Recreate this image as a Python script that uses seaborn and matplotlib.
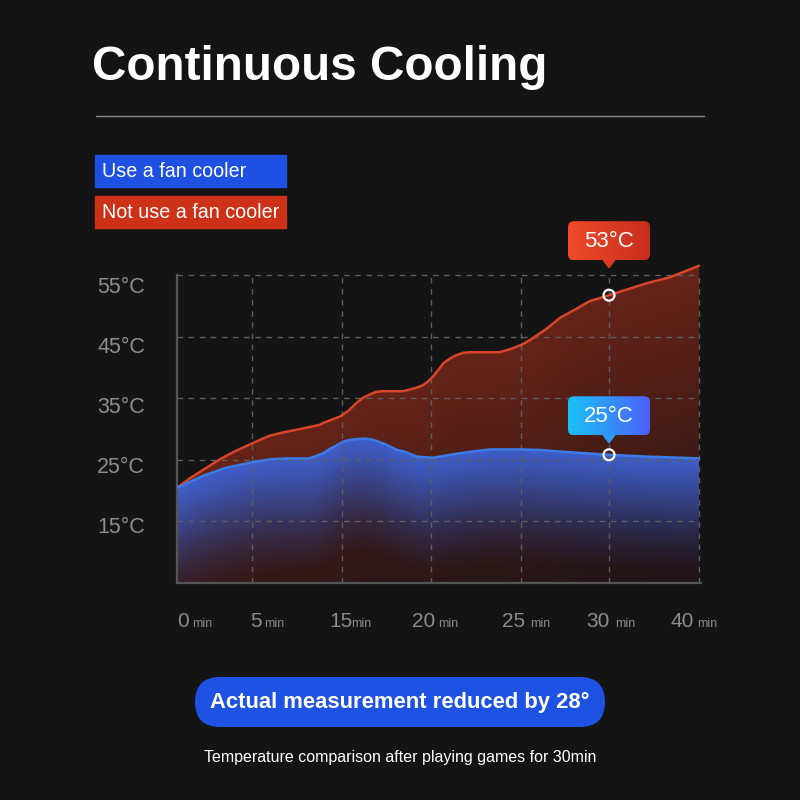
import numpy as np
import pandas as pd
import matplotlib
matplotlib.use("Agg")
import matplotlib.pyplot as plt
import seaborn as sns
from matplotlib.patches import FancyBboxPatch, Rectangle, Polygon

# ---- data ----
tick_minutes = [0, 5, 15, 20, 25, 30, 40]
temp_ticks = [15, 25, 35, 45, 55]

nofan_min = [0, 0.87, 1.75, 2.9, 3.87, 5, 7, 8.67, 10.7, 12.56, 12.9, 14.8, 15.34, 15.8,
             16.18, 16.6, 16.9, 17.3, 18.45, 19.2, 19.55, 19.78, 20.1, 20.39, 20.7, 21.06,
             21.4, 21.78, 22.2, 23.8, 24.4, 25, 25.5, 26.5, 27.2, 28, 28.9, 30, 34.2, 36.8, 40]
nofan_temp = [21.2, 22.8, 24.2, 26.0, 27.3, 28.6, 29.9, 30.5, 31.1, 31.7, 32.0, 33.1, 34.0, 35.3,
              36.2, 36.8, 37.2, 37.3, 37.3, 37.9, 38.3, 38.8, 39.7, 40.8, 42.0, 42.75,
              43.3, 43.7, 43.8, 43.8, 44.3, 45.0, 45.8, 47.8, 49.5, 50.8, 52.3, 53.3, 55.3, 56.3, 58.2]

fan_min = [0, 0.87, 1.75, 3.2, 5, 7, 8.85, 11.4, 12.9, 13.67, 14.33, 15.07, 15.45, 15.8,
           16.3, 16.75, 17.4, 18.1, 18.54, 19.2, 19.66, 20.1, 21.05, 22.17, 23.3, 24.1,
           24.95, 26.1, 27.4, 30, 34.2, 40]
fan_temp = [21.2, 22.2, 23.2, 24.5, 25.45, 25.95, 26.1, 26.1, 26.95, 27.7, 28.2, 28.9, 29.2, 29.3,
            29.4, 29.2, 28.5, 27.5, 27.2, 26.4, 26.3, 26.2, 26.7, 27.2, 27.6, 27.6,
            27.6, 27.5, 27.2, 26.7, 26.4, 26.1]

highlight_min = 30
nofan_label = '53°C'
fan_label = '25°C'

series_names = ['Use a fan cooler', 'Not use a fan cooler']

# ---- layout / style ----
BG = '#141414'
grid_pos = [0, 75, 165, 254, 344, 432, 522]      # x gridlines (px apart)
grid_temp = [15.7, 25.9, 36.2, 46.4, 56.7]
y_bottom, y_top = 5.33, 59.0
num_left_px = [177.6, 249.9, 329.4, 412.1, 502.3, 586.7, 670.3]
unit_left_px = [192.4, 263.7, 351.5, 437.9, 529.8, 615.2, 696.9]

red_line = '#d9452b'
blue_line = '#3d7be6'
legend_blue = '#1e50e1'
legend_red = '#cd3219'


def to_pos(m):
    return np.interp(m, tick_minutes, grid_pos)


sns.set_theme(style="dark", rc={'figure.facecolor': BG, 'axes.facecolor': BG,
                                'savefig.facecolor': BG})
plt.rcParams['font.family'] = ['Liberation Sans', 'DejaVu Sans']


def gradient_area(ax, x, y, c_top, c_bot, a_top, a_bot, depth, power, z):
    x = np.asarray(x, dtype=float)
    y = np.asarray(y, dtype=float)
    area = ax.fill_between(x, y, y_bottom, facecolor='none', edgecolor='none', zorder=z)
    xs = np.linspace(x.min(), x.max(), 600)
    ys = np.linspace(y_bottom, y_top, 400)
    top = np.interp(xs, x, y)
    f = np.clip((top[None, :] - ys[:, None]) / depth, 0, 1) ** power
    f = f[..., None]
    rgb = (1 - f) * np.array(c_top) + f * np.array(c_bot)
    a = (1 - f) * a_top + f * a_bot
    img = np.concatenate([rgb, a], axis=2)
    im = ax.imshow(img, extent=[x.min(), x.max(), y_bottom, y_top], origin='lower',
                   aspect='auto', zorder=z, interpolation='bilinear')
    im.set_clip_path(area.get_paths()[0], transform=ax.transData)


def gradient_box(deco, x0, y0, w, h, c_left, c_right, radius, z):
    patch = FancyBboxPatch((x0, y0), w, h, boxstyle=f"round,pad=0,rounding_size={radius}",
                           fc='none', ec='none', zorder=z)
    deco.add_patch(patch)
    g = np.linspace(0, 1, 256)[:, None]
    img = ((1 - g) * np.array(c_left) + g * np.array(c_right))[None, :, :]
    im = deco.imshow(img, extent=[x0, x0 + w, y0 + h, y0], aspect='auto', zorder=z)
    im.set_clip_path(patch)


fig = plt.figure(figsize=(8, 8), dpi=100)
ax = fig.add_axes([177 / 800, 217 / 800, 524 / 800, 322 / 800])

df = pd.concat([
    pd.DataFrame({'minute': nofan_min, 'temp': nofan_temp, 'series': series_names[1]}),
    pd.DataFrame({'minute': fan_min, 'temp': fan_temp, 'series': series_names[0]}),
])
df['pos'] = to_pos(df['minute'])

nofan = df[df['series'] == series_names[1]]
fan = df[df['series'] == series_names[0]]

gradient_area(ax, nofan['pos'], nofan['temp'], (0.40, 0.14, 0.095), (0.16, 0.08, 0.075),
              1.0, 1.0, 50, 1.0, 1)
gradient_area(ax, fan['pos'], fan['temp'], (0.24, 0.38, 0.82), (0.09, 0.08, 0.12),
              0.95, 0.4, 19, 1.3, 2)

sns.lineplot(data=df, x='pos', y='temp', hue='series', estimator=None, sort=False,
             palette={series_names[0]: blue_line, series_names[1]: red_line},
             linewidth=1.8, legend=False, ax=ax, zorder=4)

# dashed grid
grid_kw = dict(color='#5e5e5e', lw=1, linestyles=(0, (4, 4)), zorder=3)
ax.hlines(grid_temp, 0, grid_pos[-1], **grid_kw)
ax.vlines(grid_pos[1:], y_bottom, grid_temp[-1], **grid_kw)

# highlighted points
hx = to_pos(highlight_min)
hy_red = nofan_temp[nofan_min.index(highlight_min)]
hy_blue = fan_temp[fan_min.index(highlight_min)]
ax.scatter([hx, hx], [hy_red, hy_blue], s=62, facecolor='none', edgecolor='white',
           linewidth=1.6, zorder=6)

ax.set_xlim(0, 524)
ax.set_ylim(y_bottom, y_top)
ax.set_xticks([])
ax.set_yticks(temp_ticks, labels=[f'{t}°C' for t in temp_ticks])
ax.tick_params(axis='y', length=0, pad=23, labelsize=15.5, labelcolor='#8e8e8e')
ax.set_xlabel('')
ax.set_ylabel('')
ax.grid(False)
for s in ['top', 'right']:
    ax.spines[s].set_visible(False)
for s in ['left', 'bottom']:
    ax.spines[s].set_visible(True)
    ax.spines[s].set_color('#555555')
    ax.spines[s].set_linewidth(1.6)
ax.spines['left'].set_bounds(y_bottom, grid_temp[-1])

# ---- decoration layer in pixel coordinates ----
deco = fig.add_axes([0, 0, 1, 1], zorder=10)
deco.patch.set_alpha(0)
deco.axis('off')

deco.text(92, 80, 'Continuous Cooling', color='white', fontsize=34.3, fontweight='bold',
          ha='left', va='baseline')
deco.plot([96, 704], [116, 116], color='#8a8a8a', lw=1)

deco.add_patch(Rectangle((95, 155), 191, 32, color=legend_blue))
deco.add_patch(Rectangle((95, 196), 191, 32, color=legend_red))
deco.text(102.5, 171.5, series_names[0], color='white', fontsize=14.2, va='center', ha='left')
deco.text(102.5, 212.5, series_names[1], color='white', fontsize=14.2, va='center', ha='left')

for m, nx, ux in zip(tick_minutes, num_left_px, unit_left_px):
    deco.text(nx, 627, str(m), color='#8c8c8c', fontsize=15, ha='left', va='baseline')
    deco.text(ux, 627, 'min', color='#8c8c8c', fontsize=8.8, ha='left', va='baseline')

# tooltips anchored on the highlighted points
fig.canvas.draw()
for yv, label, c_left, c_right, c_mid, gap in [
        (hy_red, nofan_label, (0.94, 0.29, 0.17), (0.78, 0.18, 0.11), '#dc3a24', 35),
        (hy_blue, fan_label, (0.10, 0.76, 0.97), (0.30, 0.38, 0.97), '#2a9cf6', 19.5)]:
    px, py = ax.transData.transform((hx, yv))
    py = 800 - py
    bw, bh = 82, 39
    bx = px - bw / 2
    by = py - gap - bh
    gradient_box(deco, bx, by, bw, bh, c_left, c_right, 6, 11)
    deco.add_patch(Polygon([[px - 6, by + bh - 0.5], [px + 6, by + bh - 0.5], [px, by + bh + 7.5]],
                           closed=True, color=c_mid, zorder=11))
    deco.text(px, by + bh / 2 + 1, label, color='white', fontsize=16, ha='center',
              va='center', zorder=12)

deco.add_patch(FancyBboxPatch((195, 677), 410, 50, boxstyle="round,pad=0,rounding_size=25",
                              fc='#1e52e2', ec='none'))
deco.text(400, 702.5, 'Actual measurement reduced by 28°', color='white', fontsize=15.8,
          fontweight='bold', ha='center', va='center')
deco.text(400, 762, 'Temperature comparison after playing games for 30min', color='white',
          fontsize=11.5, ha='center', va='baseline')

deco.set_xlim(0, 800)
deco.set_ylim(800, 0)

fig.savefig('out.png', dpi=100, facecolor=BG)
